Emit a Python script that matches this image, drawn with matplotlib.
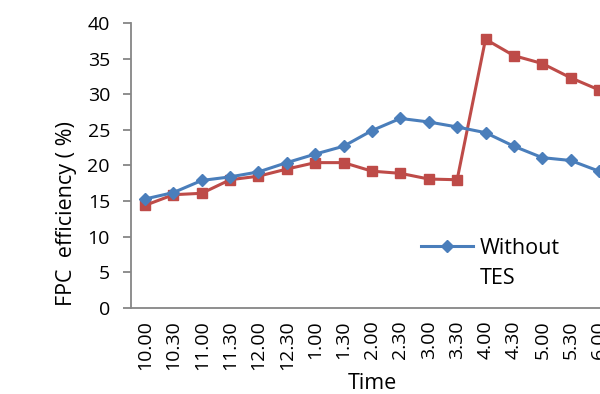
import matplotlib.pyplot as plt
from matplotlib.lines import Line2D

times = ["10.00", "10.30", "11.00", "11.30", "12.00", "12.30", "1.00", "1.30",
         "2.00", "2.30", "3.00", "3.30", "4.00", "4.30", "5.00", "5.30", "6.00"]
without_tes = [15.3, 16.2, 17.9, 18.4, 19.1, 20.4, 21.6, 22.7,
               24.9, 26.6, 26.1, 25.4, 24.6, 22.7, 21.1, 20.7, 19.2]
with_tes = [14.4, 15.9, 16.1, 18.0, 18.5, 19.5, 20.4, 20.4,
            19.2, 18.9, 18.1, 18.0, 37.7, 35.4, 34.3, 32.3, 30.6]

plt.rcParams['font.family'] = ['Open Sans', 'DejaVu Sans']
tick_fs = 14
label_fs = 15.5

fig = plt.figure(figsize=(6, 3.94), dpi=100)
# axes runs past the right edge, like the cropped original
ax = fig.add_axes([0.218, 0.218, 0.804, 0.724])

x = range(len(times))
blue, = ax.plot(x, without_tes, color="#4A7EBB", lw=2.2, marker="D", ms=6, zorder=3)
ax.plot(x, with_tes, color="#BE4B48", lw=2.2, marker="s", ms=7.5, zorder=2)

ax.set_xlim(-0.5, len(times) - 0.5)
ax.set_ylim(0, 40)
ax.set_yticks(range(0, 41, 5))
ax.set_xticks(list(x))
ax.set_xticklabels(times, rotation=90)

for s in ["top", "right"]:
    ax.spines[s].set_visible(False)
for s in ["left", "bottom"]:
    ax.spines[s].set_color("#868686")
    ax.spines[s].set_linewidth(1.3)
ax.tick_params(axis="y", length=6, width=1.3, color="#868686", labelsize=tick_fs, pad=9)
ax.tick_params(axis="x", length=0, labelsize=tick_fs, pad=9)

ax.set_ylabel("FPC  efficiency ( %)", fontsize=label_fs)
ax.yaxis.set_label_coords(-0.112, 0.33)
ax.set_xlabel("Time", fontsize=label_fs, labelpad=2)

# legend label wraps onto a second line, handle stays on the first
blank = Line2D([], [], color="none")
ax.legend([blue, blank], ["Without", "TES"], loc="upper left",
          bbox_to_anchor=(0.562, 0.315), frameon=False, fontsize=label_fs,
          handlelength=2.4, handletextpad=0.3, labelspacing=0.45)

fig.savefig("out.png", dpi=100)
